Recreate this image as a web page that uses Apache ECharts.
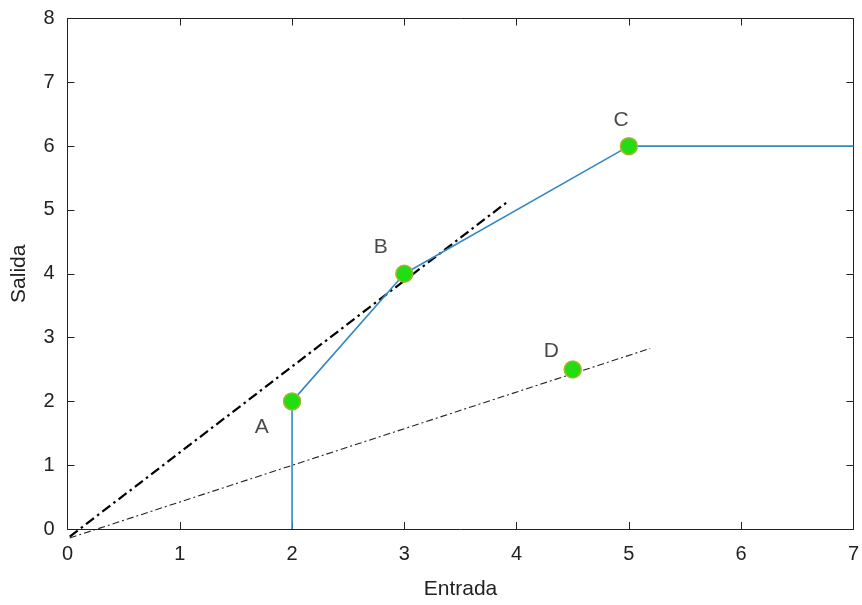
<!DOCTYPE html>
<html>
<head>
<meta charset="utf-8">
<script src="https://cdn.jsdelivr.net/npm/echarts@6/dist/echarts.min.js"></script>
<style>
  html, body { margin: 0; padding: 0; background: #fff; }
  #chart { width: 862px; height: 605px; }
</style>
</head>
<body>
<div id="chart"></div>
<script>
// Piecewise characteristic (Entrada -> Salida)
const curve = [[2, 0], [2, 2], [3, 4], [5, 6], [7, 6]];

// Operating points and their names
const pointNames = ['A', 'B', 'C', 'D'];
const pointValues = [[2, 2], [3, 4], [5, 6], [4.5, 2.5]];

// Where each point's letter sits
const letterPositions = [[1.73, 1.6], [2.79, 4.41], [4.93, 6.41], [4.31, 2.79]];

// Straight reference lines through the origin region
const tangentLine = [[0.02, -0.12], [3.92, 5.13]];
const secantLine = [[0.02, -0.14], [5.19, 2.83]];

// Axis ranges and ticks
const xTicks = [0, 1, 2, 3, 4, 5, 6, 7];
const yTicks = [0, 1, 2, 3, 4, 5, 6, 7, 8];

const FONT = '"Liberation Sans", Arial, Helvetica, sans-serif';
const INK = '#222222';

const baseAxisLine = { show: true, onZero: false, lineStyle: { color: INK, width: 1 } };
const baseTick = { show: true, inside: true, length: 7, lineStyle: { color: INK, width: 1 } };

const chart = echarts.init(document.getElementById('chart'), null, { renderer: 'canvas' });

chart.setOption({
  animation: false,
  backgroundColor: '#ffffff',
  grid: { left: 67.5, right: 4.5, top: 18.5, bottom: 71, containLabel: false },
  xAxis: [
    {
      type: 'value', position: 'bottom',
      min: xTicks[0], max: xTicks[xTicks.length - 1], interval: 1,
      name: 'Entrada', nameLocation: 'middle', nameGap: 50,
      nameTextStyle: { fontFamily: FONT, fontSize: 21, color: INK },
      axisLine: baseAxisLine, axisTick: baseTick,
      axisLabel: { fontFamily: FONT, fontSize: 20, color: INK, margin: 15 },
      splitLine: { show: false }
    },
    {
      type: 'value', position: 'top',
      min: xTicks[0], max: xTicks[xTicks.length - 1], interval: 1,
      axisLine: baseAxisLine, axisTick: baseTick,
      axisLabel: { show: false }, splitLine: { show: false }
    }
  ],
  yAxis: [
    {
      type: 'value', position: 'left',
      min: yTicks[0], max: yTicks[yTicks.length - 1], interval: 1,
      name: 'Salida', nameLocation: 'middle', nameGap: 38,
      nameTextStyle: { fontFamily: FONT, fontSize: 21, color: INK },
      axisLine: baseAxisLine, axisTick: baseTick,
      axisLabel: { fontFamily: FONT, fontSize: 20, color: INK, margin: 13 },
      splitLine: { show: false }
    },
    {
      type: 'value', position: 'right',
      min: yTicks[0], max: yTicks[yTicks.length - 1], interval: 1,
      axisLine: baseAxisLine, axisTick: baseTick,
      axisLabel: { show: false }, splitLine: { show: false }
    }
  ],
  series: [
    {
      type: 'line', data: tangentLine, showSymbol: false, clip: false, z: 3,
      lineStyle: { color: '#000', width: 2.2, type: [10, 4, 2.5, 4] }
    },
    {
      type: 'line', data: secantLine, showSymbol: false, clip: false, z: 3,
      lineStyle: { color: '#222', width: 1.1, type: [7, 3, 2, 3] }
    },
    {
      type: 'line', data: curve, showSymbol: false, z: 4,
      lineStyle: { color: '#3489c2', width: 1.6 }
    },
    {
      type: 'scatter', z: 5,
      data: pointValues.map((v, i) => ({ name: pointNames[i], value: v })),
      symbol: 'circle', symbolSize: 17,
      itemStyle: { color: '#22dd11', borderColor: '#a9b52c', borderWidth: 1.5, opacity: 1 }
    },
    {
      type: 'scatter', z: 6, symbolSize: 0,
      data: letterPositions.map((v, i) => ({ name: pointNames[i], value: v })),
      label: {
        show: true, position: 'inside', formatter: p => p.name,
        fontFamily: FONT, fontSize: 21, color: '#1a1a1a'
      }
    }
  ]
});
</script>
</body>
</html>
